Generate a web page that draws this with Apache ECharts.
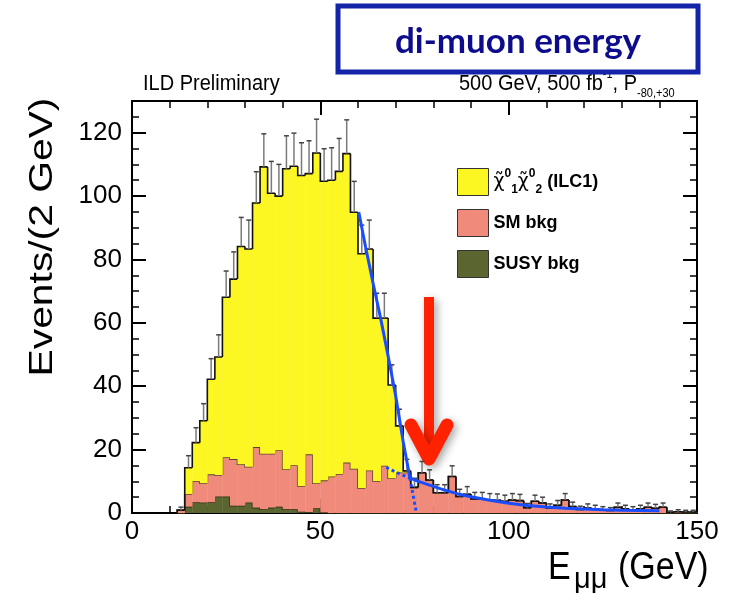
<!DOCTYPE html>
<html>
<head>
<meta charset="utf-8">
<script src="https://cdn.jsdelivr.net/npm/echarts@6/dist/echarts.min.js"></script>
<style>
html, body { margin: 0; padding: 0; background: #fff; }
#main { width: 737px; height: 593px; }
</style>
</head>
<body>
<div id="main"></div>
<script>
// bins of 2 GeV, lower edges
var binLow = [12, 14, 16, 18, 20, 22, 24, 26, 28, 30, 32, 34, 36, 38, 40, 42, 44, 46, 48, 50,
  52, 54, 56, 58, 60, 62, 64, 66, 68, 70, 72, 74, 76, 78, 80, 82, 84, 86, 88, 90,
  92, 94, 96, 98, 100, 102, 104, 106, 108, 110, 112, 114, 116, 118, 120, 122, 124, 126, 128, 130,
  132, 134, 136, 138, 140, 142, 144, 146, 148];
var binWidth = 2;

// chi1 chi2 signal (ILC1)
var signal = [0, 8.3, 12.1, 19.7, 30.0, 37.2, 50.5, 56.8, 68.7, 68.7, 77.0, 90.5, 82.2, 80.2, 94.8, 94.3, 98.0, 88.6, 104.2, 94.4,
  93.5, 95.5, 97.5, 80.9, 73.9, 69.9, 51.4, 46.6, 29.4, 14.7, 0.5, 0, 0, 0, 0, 0, 0, 0, 0, 0,
  0, 0, 0, 0, 0, 0, 0, 0, 0, 0, 0, 0, 0, 0, 0, 0, 0, 0, 0, 0,
  0, 0, 0, 0, 0, 0, 0, 0, 0];
// SM background
var smBkg = [0.9, 4.0, 6.7, 6.1, 8.8, 6.8, 12.4, 14.7, 13.1, 11.3, 19.1, 17.5, 17.0, 17.8, 12.6, 13.9, 8.1, 18.2, 7.9, 10.1,
  11.5, 12.3, 15.9, 14.0, 7.9, 13.4, 10.1, 14.9, 11.0, 12.8, 12.8, 8.1, 12.7, 10.4, 6.4, 6.4, 11.5, 5.2, 5.9, 4.4,
  4.4, 4.1, 4.0, 3.7, 4.1, 3.9, 1.7, 3.7, 3.2, 1.6, 2.4, 4.1, 2.0, 1.1, 1.6, 1.3, 1.0, 0.8, 1.8, 1.3,
  1.0, 1.3, 1.8, 1.5, 1.8, 0.2, 0.4, 0.3, 0.3];
// SUSY background
var susyBkg = [0, 2.0, 3.4, 3.3, 3.4, 5.2, 5.2, 2.3, 2.3, 3.3, 1.7, 1.2, 1.7, 2.0, 1.2, 1.2, 0.4, 0.3, 1.5, 0.2,
  0, 0, 0, 0, 0, 0, 0, 0, 0, 0, 0, 0, 0, 0, 0, 0, 0, 0, 0, 0,
  0, 0, 0, 0, 0, 0, 0, 0, 0, 0, 0, 0, 0, 0, 0, 0, 0, 0, 0, 0,
  0, 0, 0, 0, 0, 0, 0, 0, 0];

// fitted edge (solid) and its two components continued (dotted)
var fitX = [60.2, 62, 64, 66, 68, 70, 72, 73.8, 76, 78, 80, 82, 84, 86, 88, 90, 95, 100, 105, 110, 115, 120, 125, 130, 135, 140];
var fitY = [95, 84, 72.5, 61.5, 49.5, 37, 22.5, 11, 10, 9.2, 8.4, 7.6, 6.9, 6.2, 5.6, 5.1, 4.0, 3.1, 2.4, 1.9, 1.5, 1.25, 1.05, 0.9, 0.8, 0.7];
var fitExpX = [67.5, 69, 71, 73.8];
var fitExpY = [14.4, 13.5, 12.4, 11];
var fitLinX = [73.8, 75.5];
var fitLinY = [11, 0];

var names = ['\u03C7\u0303\u2081\u2070\u03C7\u0303\u2082\u2070 (ILC1)', 'SM bkg', 'SUSY bkg'];
var fills = ['#fcf622', '#f08a7a', '#5b6530'];
var edges = ['#111111', '#5c4530', '#2c3214'];

var susyTop = [], smTop = [], total = [];
for (var i = 0; i < binLow.length; i++) {
  susyTop.push(susyBkg[i]);
  smTop.push(susyBkg[i] + smBkg[i]);
  total.push(susyBkg[i] + smBkg[i] + signal[i]);
}

function layer(base, top) {
  var out = [];
  for (var i = 0; i < binLow.length; i++) {
    out.push([binLow[i], binLow[i] + binWidth, base ? base[i] : 0, top[i], i > 0 ? top[i - 1] : 0]);
  }
  return out;
}

function histRender(fill, edge) {
  return function (params, api) {
    var lo = api.value(0), hi = api.value(1), base = api.value(2), top = api.value(3), prev = api.value(4);
    var a = api.coord([lo, base]);
    var b = api.coord([hi, top]);
    var p = api.coord([lo, prev]);
    return {
      type: 'group',
      children: [
        { type: 'rect', shape: { x: a[0], y: b[1], width: b[0] - a[0] + 0.4, height: a[1] - b[1] }, style: { fill: fill } },
        { type: 'polyline', shape: { points: [p, [a[0], b[1]], b] }, style: { stroke: edge, lineWidth: 1.6, fill: null } }
      ]
    };
  };
}

var errData = [];
for (var j = 0; j < binLow.length; j++) {
  errData.push([binLow[j] + binWidth / 2, total[j], Math.sqrt(total[j])]);
}

function errRender(params, api) {
  var x = api.value(0), y = api.value(1), e = api.value(2);
  var p0 = api.coord([x, y]);
  var p1 = api.coord([x, y + e]);
  return {
    type: 'group',
    children: [
      { type: 'line', shape: { x1: p0[0], y1: p0[1], x2: p1[0], y2: p1[1] }, style: { stroke: '#7a7a7a', lineWidth: 1.5 } },
      { type: 'line', shape: { x1: p1[0] - 2.5, y1: p1[1], x2: p1[0] + 2.5, y2: p1[1] }, style: { stroke: '#444', lineWidth: 1.5 } }
    ]
  };
}

function pairs(xs, ys) {
  return xs.map(function (x, k) { return [x, ys[k]]; });
}

var font = '"Liberation Sans", Arial, sans-serif';

function xAx(pos, labels, interval, tickLen, tickW) {
  return {
    type: 'value', min: 0, max: 150, interval: interval, position: pos,
    axisLine: { show: labels, onZero: false, lineStyle: { color: '#000', width: 2 } },
    axisTick: { inside: true, length: tickLen, lineStyle: { color: '#000', width: tickW } },
    splitLine: { show: false },
    axisLabel: { show: labels, fontSize: 26, color: '#000', fontFamily: font, margin: 6 }
  };
}
function yAx(pos, labels, interval, tickLen, tickW) {
  return {
    type: 'value', min: 0, max: 130, interval: interval, position: pos,
    axisLine: { show: labels, onZero: false, lineStyle: { color: '#000', width: 2 } },
    axisTick: { inside: true, length: tickLen, lineStyle: { color: '#000', width: tickW } },
    splitLine: { show: false },
    axisLabel: { show: labels, showMaxLabel: false, fontSize: 26, color: '#000', fontFamily: font, margin: 10 }
  };
}

var chart = echarts.init(document.getElementById('main'));
chart.setOption({
  animation: false,
  backgroundColor: '#fff',
  grid: { left: 132, right: 40, top: 101, bottom: 80, show: true, borderColor: '#000', borderWidth: 2, backgroundColor: 'transparent' },
  xAxis: [
    xAx('bottom', true, 50, 14, 2),
    xAx('bottom', false, 10, 7, 1.5),
    xAx('top', false, 50, 14, 2),
    xAx('top', false, 10, 7, 1.5)
  ],
  yAxis: [
    yAx('left', true, 20, 14, 2),
    yAx('left', false, 5, 7, 1.5),
    yAx('right', false, 20, 14, 2),
    yAx('right', false, 5, 7, 1.5)
  ],
  legend: {
    orient: 'vertical', left: 452, top: 163, itemWidth: 31, itemHeight: 27, itemGap: 13,
    icon: 'rect', selectedMode: false,
    itemStyle: { borderColor: '#333', borderWidth: 1 },
    data: names,
    formatter: function (name) {
      if (name === names[0]) {
        return '{c|\u03C7\u0303}{sp|0}{sb|1}{c|\u03C7\u0303}{sp|0}{sb|2}{t| (ILC1)}';
      }
      return '{t|' + name + '}';
    },
    textStyle: {
      rich: {
        t: { fontSize: 18, fontWeight: 'bold', fontFamily: font, color: '#000', lineHeight: 28 },
        c: { fontSize: 19, fontFamily: '"DejaVu Sans", sans-serif', color: '#000', lineHeight: 28 },
        sp: { fontSize: 12, fontWeight: 'bold', fontFamily: font, color: '#000', verticalAlign: 'top', lineHeight: 14 },
        sb: { fontSize: 12, fontWeight: 'bold', fontFamily: font, color: '#000', verticalAlign: 'bottom', lineHeight: 14 }
      }
    }
  },
  series: [
    { type: 'custom', name: names[2], xAxisIndex: 0, yAxisIndex: 0, itemStyle: { color: fills[2] },
      renderItem: histRender(fills[2], edges[2]), data: layer(null, susyTop), z: 2 },
    { type: 'custom', name: names[1], xAxisIndex: 0, yAxisIndex: 0, itemStyle: { color: fills[1] },
      renderItem: histRender(fills[1], edges[1]), data: layer(susyTop, smTop), z: 3 },
    { type: 'custom', name: names[0], xAxisIndex: 0, yAxisIndex: 0, itemStyle: { color: fills[0] },
      renderItem: histRender(fills[0], edges[0]), data: layer(smTop, total), z: 4 },
    { type: 'custom', name: 'err', xAxisIndex: 0, yAxisIndex: 0, renderItem: errRender, data: errData, z: 5 },
    { type: 'line', name: 'fit', xAxisIndex: 0, yAxisIndex: 0, data: pairs(fitX, fitY), showSymbol: false, smooth: false,
      lineStyle: { color: '#1a4dff', width: 3 }, z: 6 },
    { type: 'line', name: 'fitExp', xAxisIndex: 0, yAxisIndex: 0, data: pairs(fitExpX, fitExpY), showSymbol: false,
      lineStyle: { color: '#1a4dff', width: 3, type: 'dotted' }, z: 6 },
    { type: 'line', name: 'fitLin', xAxisIndex: 0, yAxisIndex: 0, data: pairs(fitLinX, fitLinY), showSymbol: false,
      lineStyle: { color: '#1a4dff', width: 3, type: 'dotted' }, z: 6 }
  ],
  graphic: [
    { type: 'text', x: 143, y: 84, scaleY: 1.1,
      style: { text: 'ILD Preliminary', font: '20px ' + font, fill: '#000', align: 'left', verticalAlign: 'middle' } },
    { type: 'text', x: 459, y: 84, scaleY: 1.1,
      style: {
        text: '{a|500 GeV, 500 fb}{s|-1}{a|, P}{b|-80,+30}', align: 'left', verticalAlign: 'middle',
        rich: {
          a: { fontSize: 20, fontFamily: font, fill: '#000', color: '#000', lineHeight: 28 },
          s: { fontSize: 11, fontFamily: font, color: '#000', verticalAlign: 'top', lineHeight: 14 },
          b: { fontSize: 11, fontFamily: font, color: '#000', verticalAlign: 'bottom', lineHeight: 10 }
        }
      } },
    { type: 'rect', z: 50, shape: { x: 338, y: 6, width: 360, height: 66 },
      style: { fill: '#fff', stroke: '#1424a8', lineWidth: 5 } },
    { type: 'text', z: 51, x: 518, y: 42,
      style: { text: 'di-muon energy', font: 'bold 35px Lato, "Open Sans", sans-serif', fill: '#0c0c8c', align: 'center', verticalAlign: 'middle' } },
    { type: 'text', x: 43, y: 237, rotation: Math.PI / 2, scaleX: 1.2,
      style: { text: 'Events/(2 GeV)', font: '34px ' + font, fill: '#000', align: 'center', verticalAlign: 'middle' } },
    { type: 'text', x: 548, y: 568, scaleY: 1.15,
      style: { text: 'E', font: '34px ' + font, fill: '#000', align: 'left', verticalAlign: 'middle' } },
    { type: 'text', x: 574, y: 580,
      style: { text: '\u03BC\u03BC', font: '29px ' + font, fill: '#000', align: 'left', verticalAlign: 'middle' } },
    { type: 'text', x: 618, y: 568, scaleY: 1.15,
      style: { text: '(GeV)', font: '34px ' + font, fill: '#000', align: 'left', verticalAlign: 'middle' } },
    { type: 'group', z: 60, children: [
      { type: 'rect', shape: { x: 424, y: 297, width: 10, height: 150 },
        style: { fill: '#ff2200', shadowBlur: 8, shadowColor: 'rgba(0,0,0,0.35)', shadowOffsetX: 3, shadowOffsetY: 3 } },
      { type: 'polyline', shape: { points: [[411, 425], [429, 459], [447, 425]] },
        style: { stroke: '#ff2200', lineWidth: 13, lineCap: 'round', lineJoin: 'round', fill: null,
          shadowBlur: 8, shadowColor: 'rgba(0,0,0,0.35)', shadowOffsetX: 3, shadowOffsetY: 3 } }
    ] }
  ]
});
</script>
</body>
</html>
